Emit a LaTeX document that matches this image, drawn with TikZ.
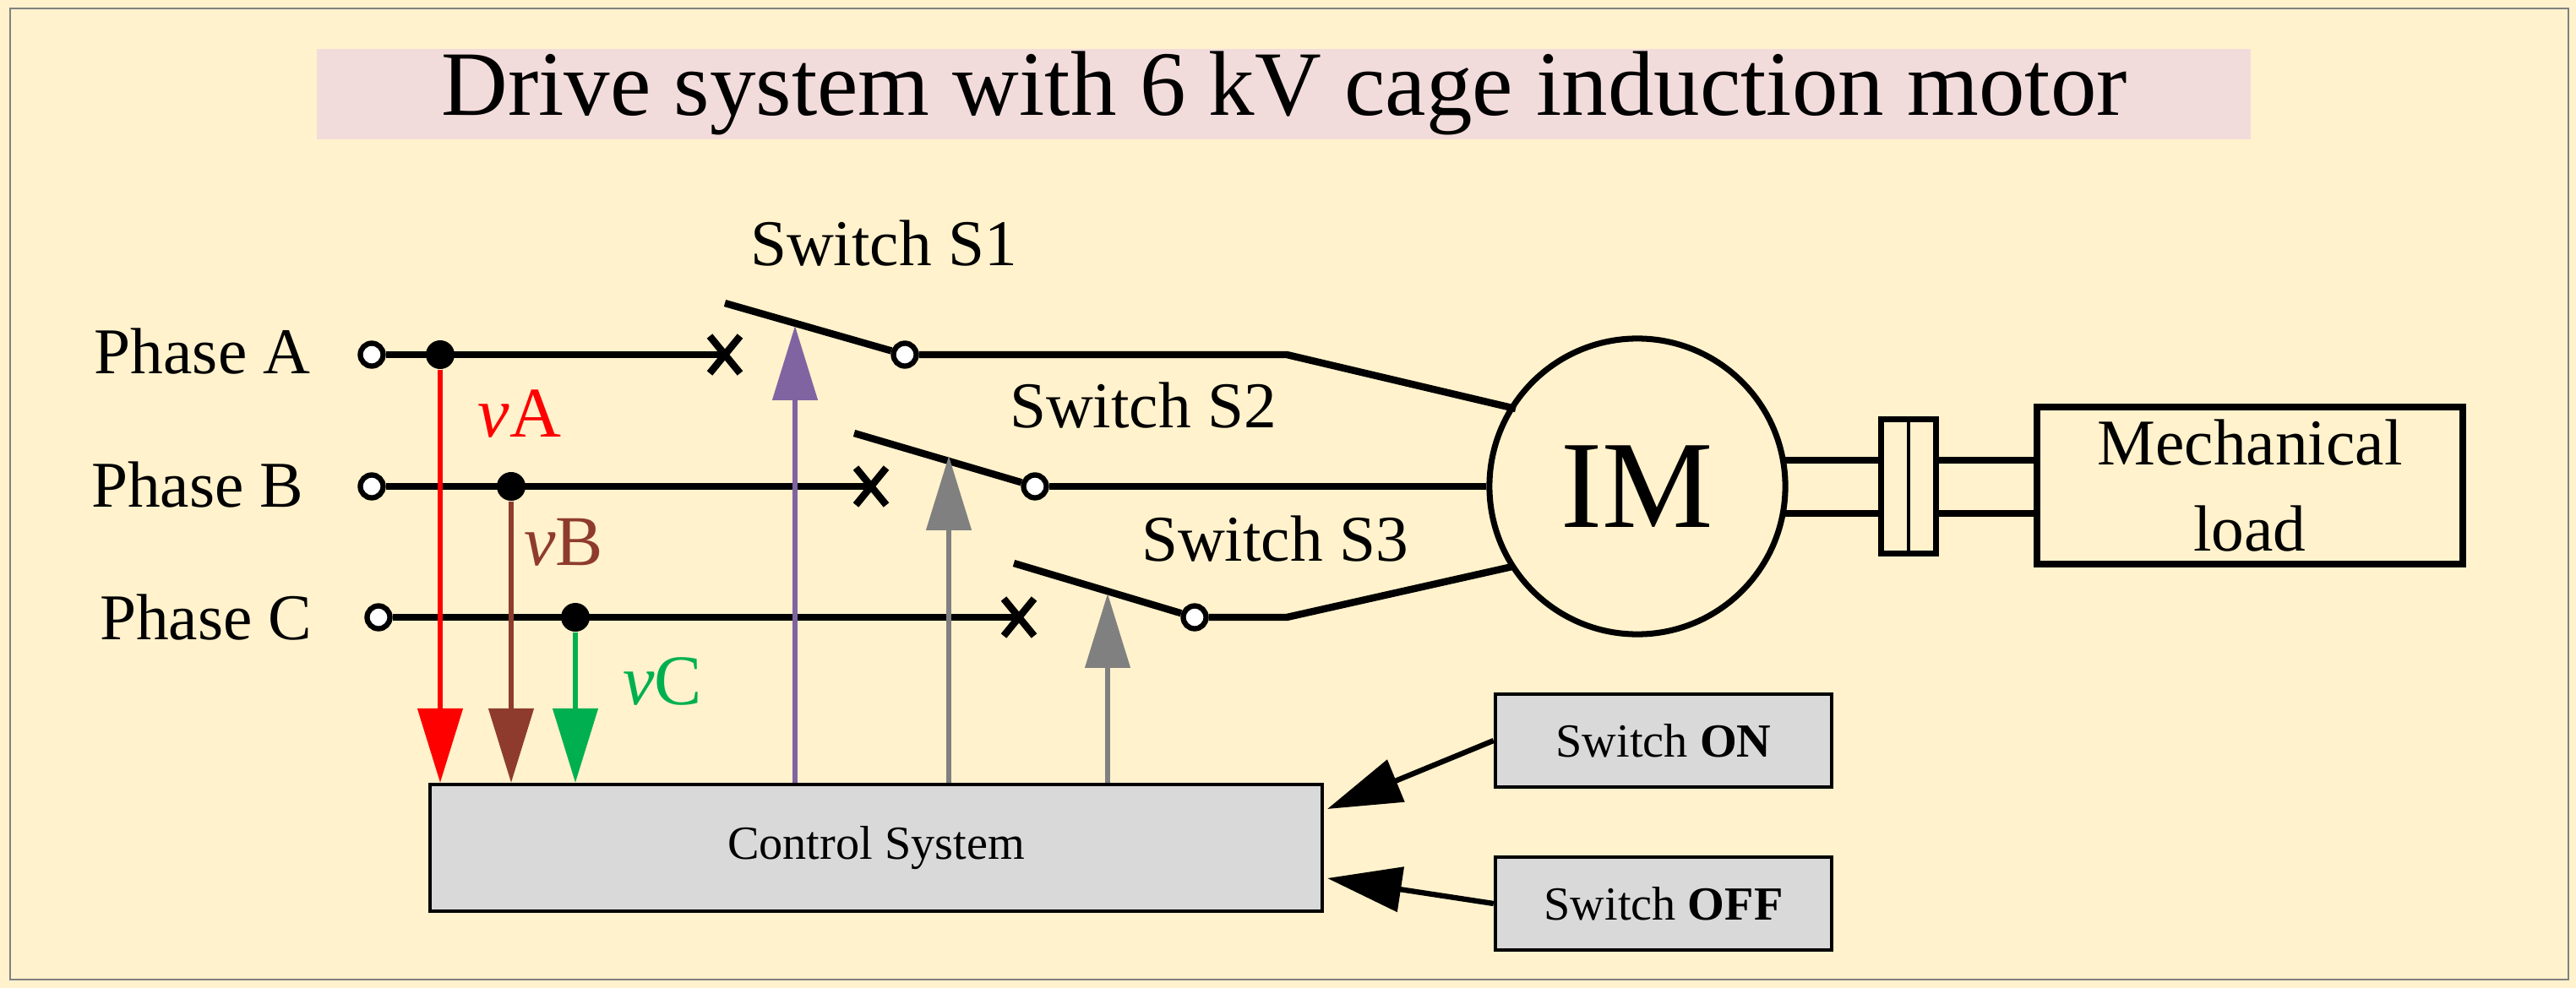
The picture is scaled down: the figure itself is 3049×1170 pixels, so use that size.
\documentclass[tikz,border=0pt]{standalone}
\usepackage{fontspec}
\setmainfont{Liberation Serif}
\usetikzlibrary{arrows.meta,calc}
\definecolor{bg}{HTML}{FFF2CC}
\definecolor{tband}{HTML}{F2DCDB}
\definecolor{cbox}{HTML}{D9D9D9}
\definecolor{pur}{HTML}{8064A2}
\definecolor{gry}{HTML}{808080}
\definecolor{brn}{HTML}{8E3B2E}
\definecolor{grn}{HTML}{00B050}
\begin{document}
\begin{tikzpicture}[x=0.01cm,y=-0.01cm,
  wire/.style={line width=2.4pt,black},
  term/.style={circle,draw=black,fill=white,line width=1.8pt,inner sep=0pt,minimum size=0.27cm},
  dot/.style={circle,fill=black,inner sep=0pt,minimum size=0.34cm},
  sig/.style={line width=1.5pt,-{Triangle[length=25pt,width=15pt]}},
  lbl/.style={font=\fontsize{22}{26}\selectfont},
  sm/.style={font=\fontsize{16}{19}\selectfont}]
\useasboundingbox (0,0) rectangle (3049,1170);
\fill[bg] (0,0) rectangle (3049,1170);
\draw[gray,line width=0.8pt] (12,10) rectangle (3040,1160);
\fill[tband] (375,58) rectangle (2664,165);
\node[font=\fontsize{31}{36}\selectfont] (title) at (1520,110) {Drive system with 6 kV cage induction motor};
% phases
\node[term] (tA) at (440,420) {};
\node[term] (tB) at (440,576) {};
\node[term] (tC) at (448,731) {};
\node[lbl,anchor=east] (lA) at (380,416) {Phase A};
\node[lbl,anchor=east] (lB) at (372,574) {Phase B};
\node[lbl,anchor=east] (lC) at (382,731) {Phase C};
\node[dot] (dA) at (521,420) {};
\node[dot] (dB) at (605,576) {};
\node[dot] (dC) at (681,731) {};
\coordinate (xA) at (858,420);
\coordinate (xB) at (1031,576);
\coordinate (xC) at (1206,731);
\draw[wire] (tA) -- (xA); \draw[wire] (tB) -- (xB); \draw[wire] (tC) -- (xC);
\foreach \c in {xA,xB,xC}{\draw[wire] ($(\c)+(-18,-22)$) -- ($(\c)+(18,22)$) ($(\c)+(-18,22)$) -- ($(\c)+(18,-22)$);}
% motor
\node[circle,draw=black,line width=2pt,minimum size=3.5cm,inner sep=0pt,font=\fontsize{42}{46}\selectfont] (M) at (1938,576) {IM};
\coordinate (bA) at (858,359);
\coordinate (bB) at (1011,513);
\coordinate (bC) at (1200,667);
\node[term] (pA) at (1071,420) {};
\node[term] (pB) at (1225,576) {};
\node[term] (pC) at (1414,731) {};
\draw[wire] (bA) -- (pA); \draw[wire] (bB) -- (pB); \draw[wire] (bC) -- (pC);
\coordinate (kA) at (1523,420);
\coordinate (kC) at (1523,731);
\draw[wire] (pA) -- (kA) -- (1794,484);
\draw[wire] (pB) -- (M.west);
\draw[wire] (pC) -- (kC) -- (1790,671);
\node[lbl] (s1) at (1046,288) {Switch S1};
\node[lbl] (s2) at (1353,480) {Switch S2};
\node[lbl] (s3) at (1509,638) {Switch S3};
% shaft and coupling
\draw[wire] (2108,545) -- (2227,545) (2108,608) -- (2227,608);
\draw[wire] (2292,545) -- (2411,545) (2292,608) -- (2411,608);
\node[draw=black,line width=2pt,minimum width=0.65cm,minimum height=1.58cm,inner sep=0pt] (cp) at (2259,576) {};
\draw[line width=1.2pt] (cp.north) -- (cp.south);
\node[draw=black,line width=2.2pt,minimum width=5.04cm,minimum height=1.86cm,inner sep=0pt,align=center,font=\fontsize{22}{29}\selectfont] (load) at (2663,575) {Mechanical\\load};
% control system
\node[draw=black,fill=cbox,line width=1.2pt,minimum width=10.56cm,minimum height=1.5cm,inner sep=0pt,sm] (cs) at (1037,1004) {Control System};
\draw[sig,red] (dA) -- (dA |- cs.north);
\draw[sig,brn] (dB) -- (dB |- cs.north);
\draw[sig,grn] (dC) -- (dC |- cs.north);
\node[red,font=\fontsize{24}{28}\selectfont] (vA) at (615,490) {$\mathit{v}$A};
\node[brn,font=\fontsize{24}{28}\selectfont] (vB) at (667,642) {$\mathit{v}$B};
\node[grn,font=\fontsize{24}{28}\selectfont] (vC) at (784,807) {$\mathit{v}$C};
\coordinate (gA) at (941,386);
\coordinate (gB) at (1123,540);
\coordinate (gC) at (1311,703);
\draw[sig,pur] (cs.north -| gA) -- (gA);
\draw[sig,gry] (cs.north -| gB) -- (gB);
\draw[sig,gry] (cs.north -| gC) -- (gC);
% on/off
\node[draw=black,fill=cbox,line width=1.2pt,minimum width=3.98cm,minimum height=1.1cm,inner sep=0pt,sm] (on) at (1969,877) {Switch \textbf{ON}};
\node[draw=black,fill=cbox,line width=1.2pt,minimum width=3.98cm,minimum height=1.1cm,inner sep=0pt,sm] (off) at (1969,1070) {Switch \textbf{OFF}};
\draw[sig,black,line width=1.8pt] (on.west) -- (1571,958);
\draw[sig,black,line width=1.8pt] (off.west) -- (1571,1040);
\end{tikzpicture}
\end{document}
